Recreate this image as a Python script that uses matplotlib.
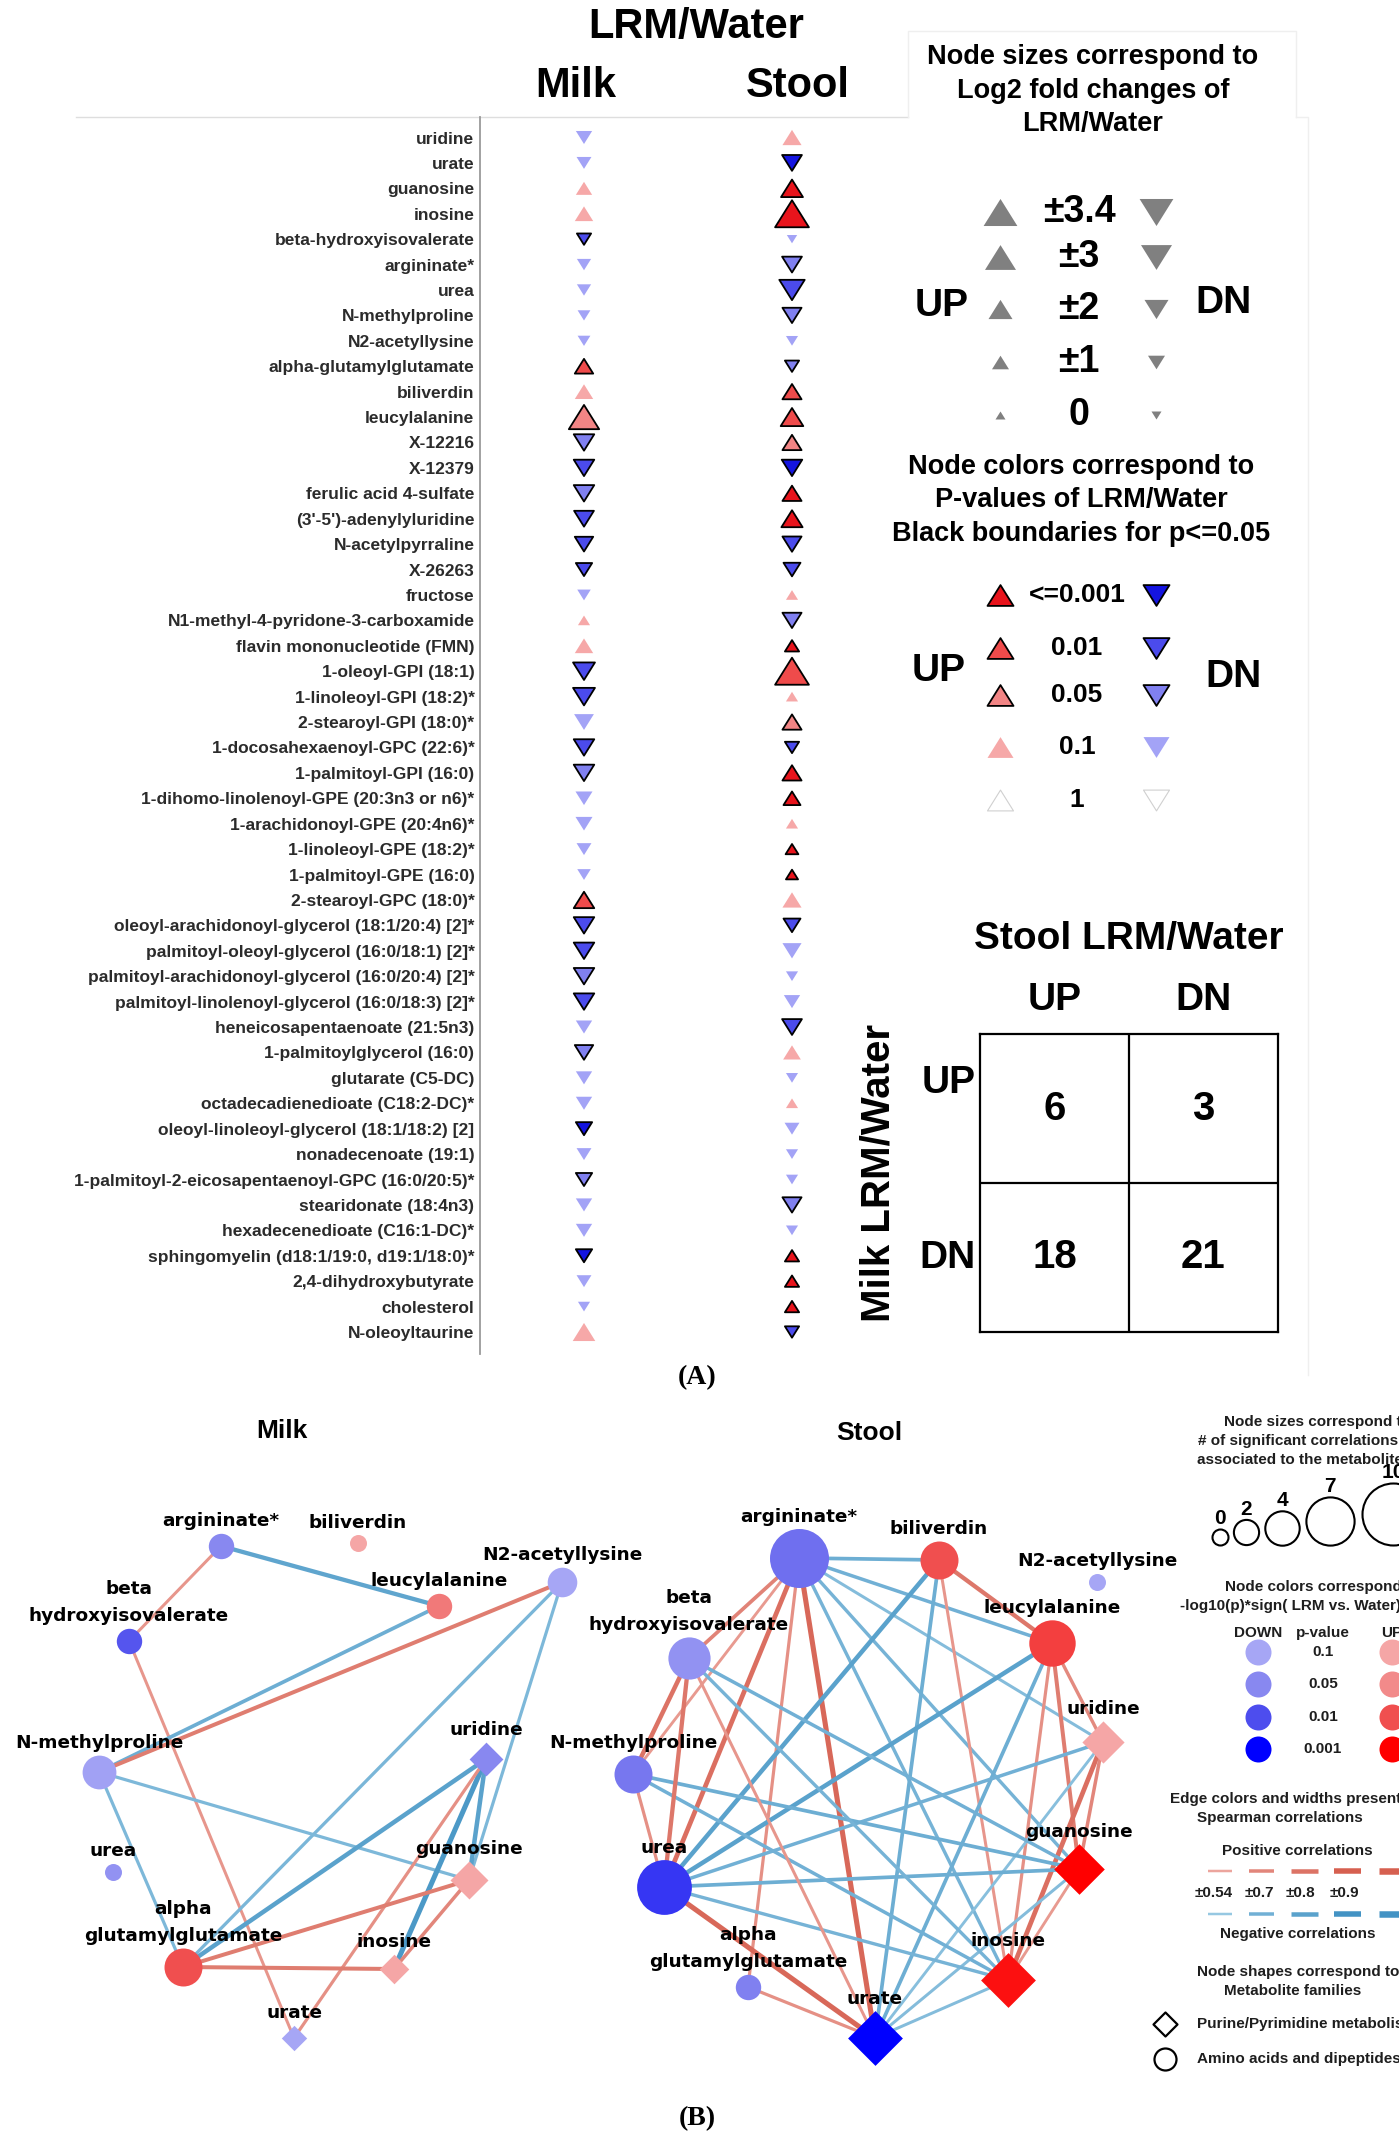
import numpy as np
import matplotlib
matplotlib.use("Agg")
import matplotlib.pyplot as plt
from matplotlib.path import Path

W, H = 1399, 2143
plt.rcParams['font.family'] = ['Liberation Sans', 'DejaVu Sans']

# ---------------- panel A data ----------------
metabolites = [
    "uridine", "urate", "guanosine", "inosine", "beta-hydroxyisovalerate",
    "argininate*", "urea", "N-methylproline", "N2-acetyllysine", "alpha-glutamylglutamate",
    "biliverdin", "leucylalanine", "X-12216", "X-12379", "ferulic acid 4-sulfate",
    "(3'-5')-adenylyluridine", "N-acetylpyrraline", "X-26263", "fructose",
    "N1-methyl-4-pyridone-3-carboxamide",
    "flavin mononucleotide (FMN)", "1-oleoyl-GPI (18:1)", "1-linoleoyl-GPI (18:2)*",
    "2-stearoyl-GPI (18:0)*", "1-docosahexaenoyl-GPC (22:6)*",
    "1-palmitoyl-GPI (16:0)", "1-dihomo-linolenoyl-GPE (20:3n3 or n6)*",
    "1-arachidonoyl-GPE (20:4n6)*", "1-linoleoyl-GPE (18:2)*", "1-palmitoyl-GPE (16:0)",
    "2-stearoyl-GPC (18:0)*", "oleoyl-arachidonoyl-glycerol (18:1/20:4) [2]*",
    "palmitoyl-oleoyl-glycerol (16:0/18:1) [2]*",
    "palmitoyl-arachidonoyl-glycerol (16:0/20:4) [2]*",
    "palmitoyl-linolenoyl-glycerol (16:0/18:3) [2]*",
    "heneicosapentaenoate (21:5n3)", "1-palmitoylglycerol (16:0)", "glutarate (C5-DC)",
    "octadecadienedioate (C18:2-DC)*", "oleoyl-linoleoyl-glycerol (18:1/18:2) [2]",
    "nonadecenoate (19:1)", "1-palmitoyl-2-eicosapentaenoyl-GPC (16:0/20:5)*",
    "stearidonate (18:4n3)", "hexadecenedioate (C16:1-DC)*",
    "sphingomyelin (d18:1/19:0, d19:1/18:0)*",
    "2,4-dihydroxybutyrate", "cholesterol", "N-oleoyltaurine"]

milk_log2fc = [-0.9, -0.7, 0.9, 1.2, -0.6,
               -0.6, -0.6, -0.4, -0.4, 1.2,
               1.2, 2.9, -1.5, -1.5, -1.5,
               -1.4, -1.2, -0.9, -0.5, 0.3,
               1.2, -1.7, -1.7, -1.4, -1.5,
               -1.5, -1.0, -1.0, -0.7, -0.5,
               1.5, -1.5, -1.5, -1.5, -1.5,
               -0.9, -1.2, -0.9, -0.9, -0.9,
               -0.7, -0.9, -0.9, -0.9, -0.9,
               -0.7, -0.3, 1.8]
milk_p = [0.1, 0.1, 0.1, 0.1, 0.01,
          0.1, 0.1, 0.1, 0.1, 0.01,
          0.1, 0.05, 0.05, 0.01, 0.05,
          0.01, 0.01, 0.01, 0.1, 0.1,
          0.1, 0.01, 0.01, 0.1, 0.01,
          0.05, 0.1, 0.1, 0.1, 0.1,
          0.01, 0.01, 0.01, 0.05, 0.01,
          0.1, 0.05, 0.1, 0.1, 0.001,
          0.1, 0.05, 0.1, 0.1, 0.001,
          0.1, 0.1, 0.1]
stool_log2fc = [1.3, -1.4, 1.7, 3.4, -0.05,
                -1.4, -2.2, -1.3, -0.3, -0.6,
                1.3, 1.8, 1.3, -1.5, 1.3,
                1.6, -1.3, -1.0, 0.3, -1.3,
                0.6, 3.4, 0.3, 1.3, -0.6,
                1.3, 1.0, 0.3, 0.4, 0.3,
                1.3, -1.0, -1.3, -0.3, -0.9,
                -1.4, 1.1, -0.3, 0.3, -0.7,
                -0.3, -0.3, -1.3, -0.3, 0.6,
                0.6, 0.6, -0.6]
stool_p = [0.1, 0.001, 0.001, 0.001, 0.1,
           0.05, 0.01, 0.05, 0.1, 0.05,
           0.01, 0.01, 0.05, 0.001, 0.001,
           0.001, 0.01, 0.01, 0.1, 0.05,
           0.001, 0.01, 0.1, 0.05, 0.01,
           0.001, 0.001, 0.1, 0.001, 0.001,
           0.1, 0.01, 0.1, 0.1, 0.1,
           0.01, 0.1, 0.1, 0.1, 0.1,
           0.1, 0.1, 0.05, 0.1, 0.001,
           0.001, 0.001, 0.01]

size_legend_fc = [3.4, 3, 2, 1, 0]
size_legend_labels = ["\u00b13.4", "\u00b13", "\u00b12", "\u00b11", "0"]
p_legend = [0.001, 0.01, 0.05, 0.1, 1]
p_legend_labels = ["<=0.001", "0.01", "0.05", "0.1", "1"]

# ---------------- panel B data ----------------
net_nodes = ["argininate*", "biliverdin", "N2-acetyllysine", "leucylalanine", "uridine",
             "guanosine", "inosine", "urate", "alpha-glutamylglutamate", "urea",
             "N-methylproline", "beta-hydroxyisovalerate"]
net_labels = ["argininate*", "biliverdin", "N2-acetyllysine", "leucylalanine", "uridine",
              "guanosine", "inosine", "urate", "alpha\nglutamylglutamate", "urea",
              "N-methylproline", "beta\nhydroxyisovalerate"]
net_purine = [False, False, False, False, True, True, True, True, False, False, False, False]
# -log10(p) * sign(LRM vs Water)
milk_net_score = [-1.3, 1.0, -1.0, 1.5, -1.3, 1.0, 1.0, -1.0, 2.0, -1.2, -1.05, -1.9]
stool_net_score = [-1.6, 2.0, -1.0, 2.2, 1.0, 3.0, 2.8, -3.2, -1.4, -2.3, -1.5, -1.2]

milk_edges = [
    ("argininate*", "beta-hydroxyisovalerate", 0.62),
    ("argininate*", "leucylalanine", -0.78),
    ("beta-hydroxyisovalerate", "urate", 0.62),
    ("leucylalanine", "N-methylproline", -0.72),
    ("N2-acetyllysine", "N-methylproline", 0.75),
    ("N2-acetyllysine", "alpha-glutamylglutamate", -0.66),
    ("N2-acetyllysine", "guanosine", -0.65),
    ("N-methylproline", "guanosine", -0.65),
    ("N-methylproline", "alpha-glutamylglutamate", -0.65),
    ("uridine", "alpha-glutamylglutamate", -0.8),
    ("uridine", "inosine", -0.86),
    ("uridine", "guanosine", -0.8),
    ("uridine", "urate", 0.65),
    ("alpha-glutamylglutamate", "guanosine", 0.75),
    ("alpha-glutamylglutamate", "inosine", 0.75),
    ("guanosine", "inosine", 0.7),
]
stool_edges = [
    ("argininate*", "biliverdin", -0.72),
    ("argininate*", "leucylalanine", -0.7),
    ("argininate*", "uridine", -0.62),
    ("argininate*", "guanosine", -0.68),
    ("argininate*", "inosine", -0.68),
    ("argininate*", "urate", 0.86),
    ("argininate*", "alpha-glutamylglutamate", 0.65),
    ("argininate*", "urea", 0.82),
    ("argininate*", "N-methylproline", 0.6),
    ("argininate*", "beta-hydroxyisovalerate", 0.72),
    ("biliverdin", "leucylalanine", 0.78),
    ("biliverdin", "urea", -0.8),
    ("biliverdin", "urate", -0.72),
    ("biliverdin", "inosine", 0.62),
    ("leucylalanine", "urea", -0.8),
    ("leucylalanine", "urate", -0.72),
    ("leucylalanine", "inosine", 0.65),
    ("leucylalanine", "guanosine", 0.75),
    ("leucylalanine", "uridine", 0.68),
    ("uridine", "urea", -0.7),
    ("uridine", "urate", -0.6),
    ("uridine", "inosine", 0.82),
    ("uridine", "guanosine", 0.7),
    ("guanosine", "beta-hydroxyisovalerate", -0.7),
    ("guanosine", "N-methylproline", -0.72),
    ("guanosine", "urea", -0.72),
    ("guanosine", "urate", -0.62),
    ("guanosine", "inosine", 0.6),
    ("inosine", "beta-hydroxyisovalerate", -0.68),
    ("inosine", "N-methylproline", -0.7),
    ("inosine", "urea", -0.68),
    ("inosine", "urate", -0.62),
    ("urate", "urea", 0.86),
    ("urate", "alpha-glutamylglutamate", 0.65),
    ("urate", "beta-hydroxyisovalerate", 0.62),
    ("urea", "beta-hydroxyisovalerate", 0.78),
    ("urea", "N-methylproline", 0.65),
    ("N-methylproline", "beta-hydroxyisovalerate", 0.8),
]

degree_legend = [0, 2, 4, 7, 10]
net_p_legend = [0.1, 0.05, 0.01, 0.001]
edge_legend_r = [0.54, 0.7, 0.8, 0.9, 1.0]
edge_legend_labels = ["\u00b10.54", "\u00b10.7", "\u00b10.8", "\u00b10.9"]

# ---------------- layout (pixels) ----------------
milk_xy = {"argininate*": (221, 1546), "biliverdin": (358, 1543),
           "N2-acetyllysine": (562, 1582), "leucylalanine": (439, 1606),
           "uridine": (486, 1759), "guanosine": (469, 1880), "inosine": (394, 1969),
           "urate": (294, 2038), "alpha-glutamylglutamate": (183, 1967),
           "urea": (113, 1872), "N-methylproline": (99, 1772),
           "beta-hydroxyisovalerate": (129, 1641)}
stool_xy = {"argininate*": (799, 1558), "biliverdin": (939, 1560),
            "N2-acetyllysine": (1097, 1582), "leucylalanine": (1052, 1643),
            "uridine": (1103, 1742), "guanosine": (1079, 1869), "inosine": (1008, 1980),
            "urate": (875, 2038), "alpha-glutamylglutamate": (748, 1987),
            "urea": (664, 1887), "N-methylproline": (633, 1774),
            "beta-hydroxyisovalerate": (689, 1658)}

PT = 0.72  # points per pixel at 100 dpi
UP_COL = {0.001: '#e8141c', 0.01: '#ef4b4b', 0.05: '#f28585', 0.1: '#f6a8a8', 1: 'white'}
DN_COL = {0.001: '#1414e0', 0.01: '#4b4bec', 0.05: '#8080f0', 0.1: '#a3a3f6', 1: 'white'}

TRI_UP = Path([(-1, -0.8), (1, -0.8), (0, 0.8), (-1, -0.8)],
              [Path.MOVETO, Path.LINETO, Path.LINETO, Path.CLOSEPOLY])
TRI_DN = Path([(-1, 0.8), (1, 0.8), (0, -0.8), (-1, 0.8)],
              [Path.MOVETO, Path.LINETO, Path.LINETO, Path.CLOSEPOLY])


def box(x0, y0, x1, y1):
    return [x0 / W, 1 - y1 / H, (x1 - x0) / W, (y1 - y0) / H]


def tri_px(fc):
    return 10 + 7 * abs(fc)


def tri_style(p, up):
    face = (UP_COL if up else DN_COL)[p]
    if p <= 0.05:
        return face, 'black', 1.3
    if p >= 1:
        return face, '#d0d0d0', 0.8
    return face, 'none', 0.0


def net_color(score):
    a = abs(score)
    xs = [1.0, 1.301, 2.0, 3.0]
    if score < 0:
        cols = [(166, 166, 245), (136, 136, 240), (77, 77, 238), (0, 0, 255)]
    else:
        cols = [(245, 166, 166), (242, 138, 138), (240, 79, 79), (255, 0, 0)]
    return tuple(np.interp(a, xs, [c[k] for c in cols]) / 255 for k in range(3))


def edge_style(r):
    a = abs(r)
    t = np.clip((a - 0.54) / 0.36, 0, 1)
    if r > 0:
        c0, c1 = np.array([236, 165, 157]), np.array([214, 96, 80])
    else:
        c0, c1 = np.array([150, 200, 226]), np.array([67, 147, 196])
    col = tuple((c0 + (c1 - c0) * t) / 255)
    width = np.interp(a, [0.54, 0.7, 0.8, 0.9, 1.0], [2.5, 3.5, 4.5, 5.5, 6.5])
    return col, width


fig = plt.figure(figsize=(W / 100, H / 100), dpi=100)
fig.patch.set_facecolor('white')

cv = fig.add_axes([0, 0, 1, 1])
cv.set_xlim(0, W)
cv.set_ylim(H, 0)
cv.axis('off')

# ================= panel A =================
n = len(metabolites)
row0, rowN = 137.5, 1332.0
row_px = (rowN - row0) / (n - 1)
rows = np.arange(n)

axA = fig.add_axes(box(480, 117, 908, 1354))
axA.set_ylim((1354 - row0) / row_px, (117 - row0) / row_px)
axA.set_xlim((480 - 584) / 208, (908 - 584) / 208)
axA.patch.set_alpha(0)

for col, (fc, pv) in enumerate([(milk_log2fc, milk_p), (stool_log2fc, stool_p)]):
    fc = np.asarray(fc)
    pv = np.asarray(pv)
    for up in (True, False):
        m = fc > 0 if up else fc <= 0
        styles = [tri_style(p, up) for p in pv[m]]
        axA.scatter(np.full(m.sum(), col), rows[m], marker=TRI_UP if up else TRI_DN,
                    s=[(tri_px(v) * PT) ** 2 for v in fc[m]],
                    facecolors=[s[0] for s in styles], edgecolors=[s[1] for s in styles],
                    linewidths=[s[2] for s in styles], zorder=3, clip_on=False)

axA.set_yticks(rows)
axA.set_yticklabels(metabolites, fontsize=12.5, fontweight='bold', color='#2b2b2b')
axA.tick_params(axis='y', length=0, pad=4)
axA.set_xticks([])
for side in ['top', 'right', 'bottom']:
    axA.spines[side].set_visible(False)
axA.spines['left'].set_color('#9a9a9a')
axA.spines['left'].set_linewidth(1.3)

cv.plot([76, 908], [117, 117], color='#dedede', lw=1.0)
cv.text(696, 27, "LRM/Water", fontsize=30, fontweight='bold', ha='center', va='center')
cv.text(576, 86, "Milk", fontsize=30, fontweight='bold', ha='center', va='center')
cv.text(798, 86, "Stool", fontsize=30, fontweight='bold', ha='center', va='center')

# faint legend frame
frame = '#efefef'
cv.plot([908, 908, 1296, 1296], [117, 31, 31, 117], color=frame, lw=1.0)
cv.plot([1296, 1308, 1308], [117, 117, 1375], color=frame, lw=1.0)

# size legend
for k, line in enumerate(["Node sizes correspond to", "Log2 fold changes of", "LRM/Water"]):
    cv.text(1093, 57 + 33.5 * k, line, fontsize=19.5, fontweight='bold', ha='center', va='center')
size_rows = [212, 257, 309, 362, 415]
for fc, lab, y in zip(size_legend_fc, size_legend_labels, size_rows):
    s = (tri_px(fc) * PT) ** 2
    cv.scatter([1000], [y], marker=TRI_UP, s=s, color='#808080', linewidths=0)
    cv.scatter([1156], [y], marker=TRI_DN, s=s, color='#808080', linewidths=0)
    cv.text(1079, y, lab, fontsize=27, fontweight='bold', ha='center', va='center')
cv.text(942, 306, "UP", fontsize=28, fontweight='bold', ha='center', va='center')
cv.text(1223, 303, "DN", fontsize=28, fontweight='bold', ha='center', va='center')

# colour legend
for k, line in enumerate(["Node colors correspond to", "P-values of LRM/Water",
                          "Black boundaries for p<=0.05"]):
    cv.text(1081, 467 + 33.5 * k, line, fontsize=19.5, fontweight='bold', ha='center', va='center')
p_rows = [595, 648, 695, 747, 800]
for p, lab, y in zip(p_legend, p_legend_labels, p_rows):
    for up, x in ((True, 1000), (False, 1156)):
        face, edge, lw = tri_style(p, up)
        cv.scatter([x], [y], marker=TRI_UP if up else TRI_DN, s=(26 * PT) ** 2,
                   facecolors=[face], edgecolors=[edge], linewidths=lw)
    cv.text(1077, y, lab, fontsize=19, fontweight='bold', ha='center', va='center')
cv.text(939, 671, "UP", fontsize=28, fontweight='bold', ha='center', va='center')
cv.text(1234, 677, "DN", fontsize=28, fontweight='bold', ha='center', va='center')

# 2x2 agreement table
milk_up = np.asarray(milk_log2fc) > 0
stool_up = np.asarray(stool_log2fc) > 0
counts = [[int(np.sum(milk_up & stool_up)), int(np.sum(milk_up & ~stool_up))],
          [int(np.sum(~milk_up & stool_up)), int(np.sum(~milk_up & ~stool_up))]]

axT = fig.add_axes(box(980, 1034, 1278, 1332))
axT.set_xlim(0, 2)
axT.set_ylim(2, 0)
axT.set_xticks([])
axT.set_yticks([])
for sp in axT.spines.values():
    sp.set_linewidth(1.6)
axT.axhline(1, color='black', lw=1.6)
axT.axvline(1, color='black', lw=1.6)
for i in range(2):
    for j in range(2):
        axT.text(j + 0.5, i + 0.5, str(counts[i][j]), fontsize=29, fontweight='bold',
                 ha='center', va='center')
axT.text(1.0, -0.64, "Stool LRM/Water", fontsize=28, fontweight='bold', ha='center', va='center')
axT.text(0.5, -0.23, "UP", fontsize=28, fontweight='bold', ha='center', va='center')
axT.text(1.5, -0.23, "DN", fontsize=28, fontweight='bold', ha='center', va='center')
axT.text(-0.03, 0.33, "UP", fontsize=28, fontweight='bold', ha='right', va='center')
axT.text(-0.03, 1.5, "DN", fontsize=28, fontweight='bold', ha='right', va='center')
axT.text(-0.68, 0.93, "Milk LRM/Water", fontsize=29, fontweight='bold', ha='center',
         va='center', rotation=90)

cv.text(697, 1378, "(A)", fontsize=20, fontweight='bold', family='Liberation Serif',
        ha='center', va='center')

# ================= panel B =================


def draw_network(ax, xy, scores, edges, title, title_xy):
    deg = {name: 0 for name in net_nodes}
    for a, b, r in edges:
        deg[a] += 1
        deg[b] += 1
    for a, b, r in edges:
        col, wpx = edge_style(r)
        ax.plot([xy[a][0], xy[b][0]], [xy[a][1], xy[b][1]], color=col, lw=wpx * PT,
                solid_capstyle='butt', zorder=1)
    for name, lab, pur, sc in zip(net_nodes, net_labels, net_purine, scores):
        d = 17 + 4.2 * deg[name]
        x, y = xy[name]
        if pur:
            ax.scatter([x], [y], marker='D', s=(d * PT / 1.414) ** 2, color=net_color(sc),
                       linewidths=0, zorder=2)
        else:
            ax.scatter([x], [y], marker='o', s=(d * PT) ** 2, color=net_color(sc),
                       linewidths=0, zorder=2)
        for k, line in enumerate(reversed(lab.split("\n"))):
            ax.text(x, y - d / 2 - 12 - 27 * k, line, fontsize=13.3, fontweight='bold',
                    family='DejaVu Sans', ha='center', va='center', zorder=3, clip_on=False)
    ax.text(title_xy[0], title_xy[1], title, fontsize=19, fontweight='bold',
            ha='center', va='center')


axM = fig.add_axes(box(0, 1400, 640, 2100))
axM.set_xlim(0, 640)
axM.set_ylim(2100, 1400)
axM.axis('off')
draw_network(axM, milk_xy, milk_net_score, milk_edges, "Milk", (282, 1431))

axS = fig.add_axes(box(560, 1400, 1160, 2100))
axS.set_xlim(560, 1160)
axS.set_ylim(2100, 1400)
axS.axis('off')
draw_network(axS, stool_xy, stool_net_score, stool_edges, "Stool", (869, 1433))

# legend of panel B (cut by the right edge like the original)
lf = dict(fontsize=11, fontweight='bold', color='#1e1e1e', va='center')
cv.text(1224, 1422, "Node sizes correspond to", ha='left', **lf)
cv.text(1198, 1441, "# of significant correlations", ha='left', **lf)
cv.text(1197, 1460, "associated to the metabolites", ha='left', **lf)
circ_x = [1220, 1246, 1282, 1330, 1393]
for k, x in zip(degree_legend, circ_x):
    d = 16 + 4.6 * k
    cy = 1545 - d / 2
    cv.scatter([x], [cy], marker='o', s=(d * PT) ** 2, facecolors='white',
               edgecolors='black', linewidths=1.5, clip_on=False)
    cv.text(x, cy - d / 2 - 10, str(k), fontsize=15, fontweight='bold', ha='center',
            va='center', clip_on=False)

cv.text(1225, 1587, "Node colors correspond to", ha='left', **lf)
cv.text(1180, 1606, "-log10(p)*sign( LRM vs. Water)", ha='left', **lf)
cv.text(1258, 1633, "DOWN", ha='center', **lf)
cv.text(1323, 1633, "p-value", ha='center', **lf)
cv.text(1392, 1633, "UP", ha='center', **lf)
for p, y in zip(net_p_legend, [1652, 1684, 1717, 1749]):
    s = -np.log10(p)
    cv.scatter([1258], [y], s=(26 * PT) ** 2, color=net_color(-s), linewidths=0)
    cv.scatter([1392], [y], s=(26 * PT) ** 2, color=net_color(s), linewidths=0)
    cv.text(1323, y, str(p), ha='center', **lf)

cv.text(1170, 1799, "Edge colors and widths present", ha='left', **lf)
cv.text(1197, 1818, "Spearman correlations", ha='left', **lf)
cv.text(1222, 1851, "Positive correlations", ha='left', **lf)
dash_x = [(1208, 1232), (1249, 1274), (1291, 1318), (1334, 1361), (1379, 1405)]
for r, (x0, x1) in zip(edge_legend_r, dash_x):
    cp, wp = edge_style(r)
    cn, _ = edge_style(-r)
    cv.plot([x0, x1], [1871, 1871], color=cp, lw=wp * PT, solid_capstyle='butt')
    cv.plot([x0, x1], [1914, 1914], color=cn, lw=wp * PT, solid_capstyle='butt')
for lab, x in zip(edge_legend_labels, [1214, 1259, 1300, 1344]):
    cv.text(x, 1893, lab, ha='center', **lf)
cv.text(1220, 1934, "Negative correlations", ha='left', **lf)

cv.text(1197, 1972, "Node shapes correspond to", ha='left', **lf)
cv.text(1224, 1991, "Metabolite families", ha='left', **lf)
cv.scatter([1165], [2024], marker='D', s=(24 * PT / 1.414) ** 2, facecolors='white',
           edgecolors='black', linewidths=1.6)
cv.text(1197, 2024, "Purine/Pyrimidine metabolism", ha='left', **lf)
cv.scatter([1165], [2059], marker='o', s=(22 * PT) ** 2, facecolors='white',
           edgecolors='black', linewidths=1.6)
cv.text(1197, 2059, "Amino acids and dipeptides", ha='left', **lf)

cv.text(697, 2119, "(B)", fontsize=20, fontweight='bold', family='Liberation Serif',
        ha='center', va='center')

fig.savefig("out.png", dpi=100, facecolor='white')
